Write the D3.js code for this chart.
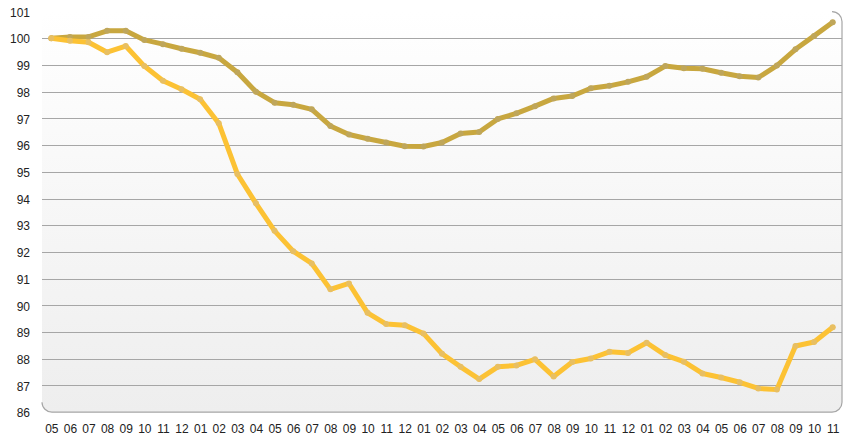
<!DOCTYPE html>
<html><head><meta charset="utf-8">
<script src="https://cdn.jsdelivr.net/npm/d3@7"></script>
<style>html,body{margin:0;padding:0;background:#fff;}svg{display:block;}</style>
</head><body>
<svg id="c" width="854" height="448"></svg>
<script>
const months = ["05","06","07","08","09","10","11","12","01","02","03","04","05","06","07","08","09","10","11","12","01","02","03","04","05","06","07","08","09","10","11","12","01","02","03","04","05","06","07","08","09","10","11"];
const seriesDark = [100.0,100.05,100.05,100.28,100.28,99.94,99.78,99.61,99.46,99.27,98.73,98.0,97.59,97.51,97.34,96.72,96.40,96.24,96.10,95.96,95.95,96.10,96.44,96.49,96.98,97.19,97.46,97.75,97.84,98.13,98.22,98.37,98.56,98.96,98.88,98.86,98.71,98.58,98.53,98.98,99.59,100.09,100.6];
const seriesLight = [100.0,99.91,99.85,99.48,99.71,98.96,98.41,98.09,97.72,96.82,94.92,93.82,92.79,92.03,91.57,90.60,90.82,89.72,89.30,89.26,88.95,88.19,87.70,87.24,87.70,87.75,87.98,87.34,87.88,88.01,88.26,88.22,88.60,88.14,87.89,87.45,87.30,87.12,86.89,86.85,88.48,88.63,89.18];
const yTicks = [86,87,88,89,90,91,92,93,94,95,96,97,98,99,100,101];

const svg = d3.select("#c");
const L = 42, R = 842, T = 11.6, B = 412.2;
const x = d3.scalePoint().domain(d3.range(months.length)).range([L, R]).padding(0.5);
const y = d3.scaleLinear().domain([86, 101]).range([B, T]);

const defs = svg.append("defs");
const g = defs.append("linearGradient").attr("id","bg").attr("x1",0).attr("y1",0).attr("x2",0).attr("y2",1);
g.append("stop").attr("offset","0%").attr("stop-color","#ffffff");
g.append("stop").attr("offset","100%").attr("stop-color","#eeeeee");

const r = 10;
svg.append("rect").attr("x", L).attr("y", T).attr("width", R - L).attr("height", B - T)
  .attr("rx", r).attr("ry", r).attr("fill", "url(#bg)");

// gridlines
svg.append("g").selectAll("line").data(yTicks.filter(d => d > 86 && d < 101)).join("line")
  .attr("x1", L).attr("x2", R).attr("y1", d => Math.round(y(d)) + 0.5).attr("y2", d => Math.round(y(d)) + 0.5)
  .attr("stroke", "#a6a6a6").attr("stroke-width", 1);

// border right + bottom with rounded corners
const bp = d3.path();
bp.moveTo(R - r, T);
bp.arcTo(R, T, R, T + r, r);
bp.lineTo(R, B - r);
bp.arcTo(R, B, R - r, B, r);
bp.lineTo(L + r, B);
bp.arcTo(L, B, L, B - r, r);
svg.append("path").attr("d", bp.toString()).attr("fill", "none").attr("stroke", "#a6a6a6").attr("stroke-width", 1.2);

// y axis labels
const yAxis = d3.axisLeft(y).tickValues(yTicks).tickSize(0).tickPadding(0).tickFormat(d3.format("d"));
const ya = svg.append("g").attr("transform", `translate(${30},0.8)`).call(yAxis);
ya.select(".domain").remove();
ya.selectAll("text").attr("font-family", "Liberation Sans, Arial, sans-serif").attr("font-size", 12).attr("fill", "#222");

// x axis labels
const xAxis = d3.axisBottom(x).tickSize(0).tickPadding(0).tickFormat(i => months[i]);
const xa = svg.append("g").attr("transform", `translate(0,${424.5})`).call(xAxis);
xa.select(".domain").remove();
xa.selectAll("text").attr("font-family", "Liberation Sans, Arial, sans-serif").attr("font-size", 12).attr("fill", "#222");

const line = d3.line().x((d, i) => x(i)).y(d => y(d));
function drawSeries(data, color, marker) {
  svg.append("path").datum(data).attr("d", line).attr("fill", "none")
    .attr("stroke", color).attr("stroke-width", 5).attr("stroke-linejoin", "round").attr("stroke-linecap", "round");
  svg.append("g").selectAll("circle").data(data).join("circle")
    .attr("cx", (d, i) => x(i)).attr("cy", d => y(d)).attr("r", 3).attr("fill", marker);
}
drawSeries(seriesDark, "#c8a73f", "#bfa65a");
drawSeries(seriesLight, "#fcc234", "#e8bf62");
</script>
</body></html>
